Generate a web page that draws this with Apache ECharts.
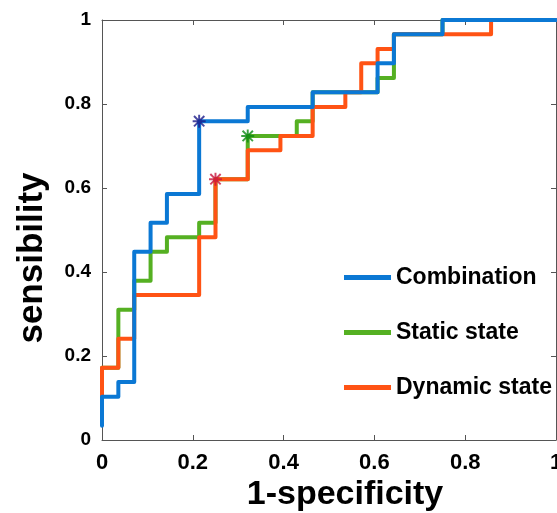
<!DOCTYPE html>
<html lang="en">
<head>
    <meta charset="UTF-8">
    <title>ROC</title>
    <script src="https://cdn.jsdelivr.net/npm/echarts@6/dist/echarts.min.js"></script>
    <style>
        html, body { margin: 0; padding: 0; background: #fff; }
        #main { width: 557px; height: 513px; }
    </style>
</head>
<body>
<div id="main"></div>
<script>
    // corner points of each ROC staircase
    var combination = [[0, 0.034], [0, 0.103], [0.036, 0.103], [0.036, 0.138], [0.071, 0.138], [0.071, 0.448],
        [0.107, 0.448], [0.107, 0.517], [0.143, 0.517], [0.143, 0.586], [0.214, 0.586], [0.214, 0.759],
        [0.321, 0.759], [0.321, 0.793], [0.464, 0.793], [0.464, 0.828], [0.607, 0.828], [0.607, 0.897],
        [0.643, 0.897], [0.643, 0.966], [0.75, 0.966], [0.75, 1], [1, 1]];
    var staticState = [[0, 0.103], [0, 0.172], [0.036, 0.172], [0.036, 0.310], [0.071, 0.310], [0.071, 0.379],
        [0.107, 0.379], [0.107, 0.448], [0.143, 0.448], [0.143, 0.483], [0.214, 0.483], [0.214, 0.517],
        [0.25, 0.517], [0.25, 0.621], [0.321, 0.621], [0.321, 0.724], [0.429, 0.724], [0.429, 0.759],
        [0.464, 0.759], [0.464, 0.828], [0.607, 0.828], [0.607, 0.862], [0.643, 0.862], [0.643, 0.966],
        [0.75, 0.966], [0.75, 1], [1, 1]];
    var dynamicState = [[0, 0.103], [0, 0.172], [0.036, 0.172], [0.036, 0.241], [0.071, 0.241], [0.071, 0.345],
        [0.214, 0.345], [0.214, 0.483], [0.25, 0.483], [0.25, 0.621], [0.321, 0.621], [0.321, 0.690],
        [0.393, 0.690], [0.393, 0.724], [0.464, 0.724], [0.464, 0.793], [0.536, 0.793], [0.536, 0.828],
        [0.571, 0.828], [0.571, 0.897], [0.607, 0.897], [0.607, 0.931], [0.643, 0.931], [0.643, 0.966],
        [0.857, 0.966], [0.857, 1], [1, 1]];
    // optimal cut-off points (asterisks)
    var combinationStar = [[0.214, 0.759]];
    var staticStar = [[0.321, 0.724]];
    var dynamicStar = [[0.25, 0.621]];
    var seriesNames = ['Combination', 'Static state', 'Dynamic state'];
    var ticks = [0, 0.2, 0.4, 0.6, 0.8, 1];

    var FONT = '"Liberation Sans", Arial, sans-serif';
    var BLUE = '#0b78d4', GREEN = '#55b022', ORANGE = '#ff5314';
    // asterisk made of four bars
    var STAR = 'path://M8.5 0L11.5 0L11.5 20L8.5 20Z M0 8.5L20 8.5L20 11.5L0 11.5Z ' +
        'M1 3.1L3.1 1L19 16.9L16.9 19Z M16.9 1L19 3.1L3.1 19L1 16.9Z';

    var chart = echarts.init(document.getElementById('main'), null, {renderer: 'canvas'});

    var boxAxis = {
        min: ticks[0],
        max: ticks[ticks.length - 1],
        interval: 0.2,
        splitLine: {show: false},
        axisLine: {show: true, onZero: false, lineStyle: {color: '#555', width: 1}},
        axisTick: {show: true, inside: true, length: 5, lineStyle: {color: '#555'}}
    };

    function stepLine(name, data, color, z) {
        return {
            name: name,
            type: 'line',
            data: data,
            showSymbol: false,
            symbol: 'none',
            z: z,
            color: color,
            lineStyle: {color: color, width: 4, join: 'round', cap: 'round'},
            emphasis: {disabled: true},
            animation: false
        };
    }

    function star(data, color) {
        return {
            type: 'scatter',
            data: data,
            symbol: STAR,
            symbolSize: 13,
            z: 10,
            itemStyle: {color: color},
            animation: false
        };
    }

    chart.setOption({
        backgroundColor: '#fff',
        grid: {left: 102, right: 1, top: 20, bottom: 73, outerBoundsMode: 'none'},
        legend: {
            data: seriesNames,
            orient: 'vertical',
            left: 339,
            top: 261,
            itemWidth: 47,
            itemHeight: 5,
            itemGap: 32,
            itemTextGap: 6,
            icon: 'rect',
            textStyle: {fontFamily: FONT, fontWeight: 'bold', fontSize: 23, color: '#000'}
        },
        xAxis: [
            Object.assign({}, boxAxis, {
                type: 'value', position: 'bottom',
                axisLabel: {fontFamily: FONT, fontWeight: 'bold', fontSize: 22, color: '#000', margin: 12}
            }),
            Object.assign({}, boxAxis, {type: 'value', position: 'top', axisLabel: {show: false}})
        ],
        yAxis: [
            Object.assign({}, boxAxis, {
                type: 'value', position: 'left',
                axisLabel: {fontFamily: FONT, fontWeight: 'bold', fontSize: 19, color: '#000', margin: 11}
            }),
            Object.assign({}, boxAxis, {type: 'value', position: 'right', axisLabel: {show: false}})
        ],
        graphic: [
            {
                type: 'text', x: 32, y: 258, rotation: Math.PI / 2,
                style: {text: 'sensibility', font: 'bold 35px ' + FONT, fill: '#000', align: 'center', verticalAlign: 'middle'}
            },
            {
                type: 'text', x: 345, y: 495,
                style: {text: '1-specificity', font: 'bold 34px ' + FONT, fill: '#000', align: 'center', verticalAlign: 'middle'}
            }
        ],
        series: [
            stepLine(seriesNames[1], staticState, GREEN, 2),
            stepLine(seriesNames[2], dynamicState, ORANGE, 3),
            stepLine(seriesNames[0], combination, BLUE, 4),
            star(combinationStar, '#1a1a8a'),
            star(staticStar, '#0a8a14'),
            star(dynamicStar, '#c8143c')
        ]
    });
</script>
</body>
</html>
